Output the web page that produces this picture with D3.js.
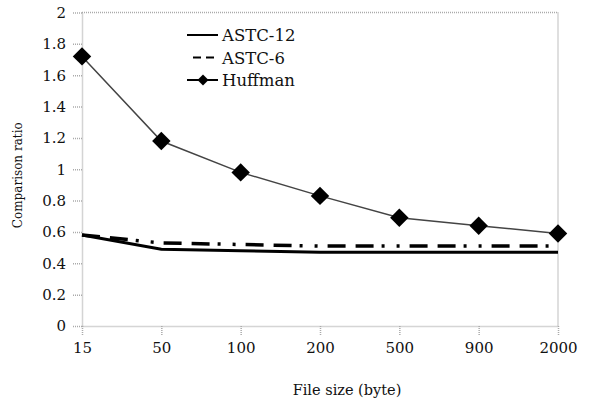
<!DOCTYPE html>
<html>
<head>
<meta charset="utf-8">
<script src="https://cdn.jsdelivr.net/npm/d3@7"></script>
<style>
  body { margin: 0; background: #fff; }
</style>
</head>
<body>
<div id="chart"></div>
<script>
// data
var fileSizes = ["15", "50", "100", "200", "500", "900", "2000"];
var astc12 = [0.58, 0.49, 0.48, 0.47, 0.47, 0.47, 0.47];
var astc6 = [0.58, 0.53, 0.52, 0.51, 0.51, 0.51, 0.51];
var huffman = [1.72, 1.18, 0.98, 0.83, 0.69, 0.64, 0.59];
var yTicks = [0, 0.2, 0.4, 0.6, 0.8, 1, 1.2, 1.4, 1.6, 1.8, 2];

// only serif face that is really there
var serif = '"DejaVu Serif", serif';

var w = 592, h = 404;
var margin = { top: 12.5, right: 34, bottom: 78, left: 82 },
    width = w - margin.left - margin.right,
    height = h - margin.top - margin.bottom;

var svg = d3.select("#chart")
    .append("svg")
    .attr("width", w)
    .attr("height", h)
    .append("g")
    .attr("transform", "translate(" + margin.left + "," + margin.top + ")");

var x = d3.scalePoint()
    .domain(fileSizes)
    .range([0, width]);

var y = d3.scaleLinear()
    .domain([0, 2])
    .range([height, 0]);

// top and right frame (dotted)
svg.append("path")
    .attr("d", "M0," + y(2) + "H" + width + "V" + height)
    .attr("fill", "none")
    .attr("stroke", "#aaa")
    .attr("stroke-width", 1.5)
    .attr("stroke-dasharray", "1,1");

// Y Axis
var yAxis = svg.append("g")
    .call(d3.axisLeft(y).tickValues(yTicks).tickSize(10).tickSizeOuter(0)
        .tickPadding(6)
        .tickFormat(function (d) { return +d.toFixed(1); }));

// X Axis
var xAxis = svg.append("g")
    .attr("transform", "translate(0," + height + ")")
    .call(d3.axisBottom(x).tickSize(10).tickSizeOuter(0).tickPadding(6));

[xAxis, yAxis].forEach(function (a) {
    a.selectAll("path, line")
        .attr("stroke", "#aaa")
        .attr("stroke-width", 1.5)
        .attr("stroke-dasharray", "1,1");
    a.selectAll("text")
        .style("font-family", serif)
        .style("font-size", "15px")
        .attr("fill", "#111");
});

var line = d3.line()
    .x(function (d, i) { return x(fileSizes[i]); })
    .y(function (d) { return y(d); });

svg.append("path")
    .datum(astc12)
    .attr("fill", "none")
    .attr("stroke", "#000")
    .attr("stroke-width", 3)
    .attr("d", line);

svg.append("path")
    .datum(astc6)
    .attr("fill", "none")
    .attr("stroke", "#000")
    .attr("stroke-width", 3.5)
    .attr("stroke-dasharray", "18,10,18,8,3,12,3,10")
    .attr("d", line);

svg.append("path")
    .datum(huffman)
    .attr("fill", "none")
    .attr("stroke", "#444")
    .attr("stroke-width", 1.5)
    .attr("d", line);

var diamond = d3.symbol().type(d3.symbolSquare).size(170);

svg.selectAll(".mark")
    .data(huffman)
    .enter()
    .append("path")
    .attr("class", "mark")
    .attr("d", diamond)
    .attr("fill", "#000")
    .attr("transform", function (d, i) {
        return "translate(" + x(fileSizes[i]) + "," + y(d) + ") rotate(45)";
    });

// legend
var legend = svg.append("g")
    .attr("transform", "translate(" + (187 - margin.left) + "," + (35 - margin.top) + ")");

var items = [
    { name: "ASTC-12", dash: null, mark: false },
    { name: "ASTC-6", dash: "8,5", mark: false },
    { name: "Huffman", dash: null, mark: true }
];

items.forEach(function (it, i) {
    var g = legend.append("g").attr("transform", "translate(0," + (i * 22.5) + ")");
    g.append("line")
        .attr("x1", it.dash ? 6 : 0).attr("x2", 31)
        .attr("y1", 0).attr("y2", 0)
        .attr("stroke", "#000")
        .attr("stroke-width", 2)
        .attr("stroke-dasharray", it.dash);
    if (it.mark) {
        g.append("path")
            .attr("d", d3.symbol().type(d3.symbolSquare).size(60))
            .attr("transform", "translate(16,0) rotate(45)")
            .attr("fill", "#000");
    }
    g.append("text")
        .attr("x", 35)
        .attr("y", 6)
        .attr("fill", "#111")
        .style("font-family", serif)
        .style("font-size", "16.5px")
        .text(it.name);
});

// axis titles
svg.append("text")
    .attr("transform", "translate(" + (22 - margin.left) + "," + (height / 2 + 6) + ") rotate(-90)")
    .attr("text-anchor", "middle")
    .attr("fill", "#111")
    .style("font-family", serif)
    .style("font-size", "12px")
    .text("Comparison ratio");

svg.append("text")
    .attr("x", 347 - margin.left)
    .attr("y", 395 - margin.top)
    .attr("text-anchor", "middle")
    .attr("fill", "#111")
    .style("font-family", serif)
    .style("font-size", "14.5px")
    .text("File size (byte)");
</script>
</body>
</html>
